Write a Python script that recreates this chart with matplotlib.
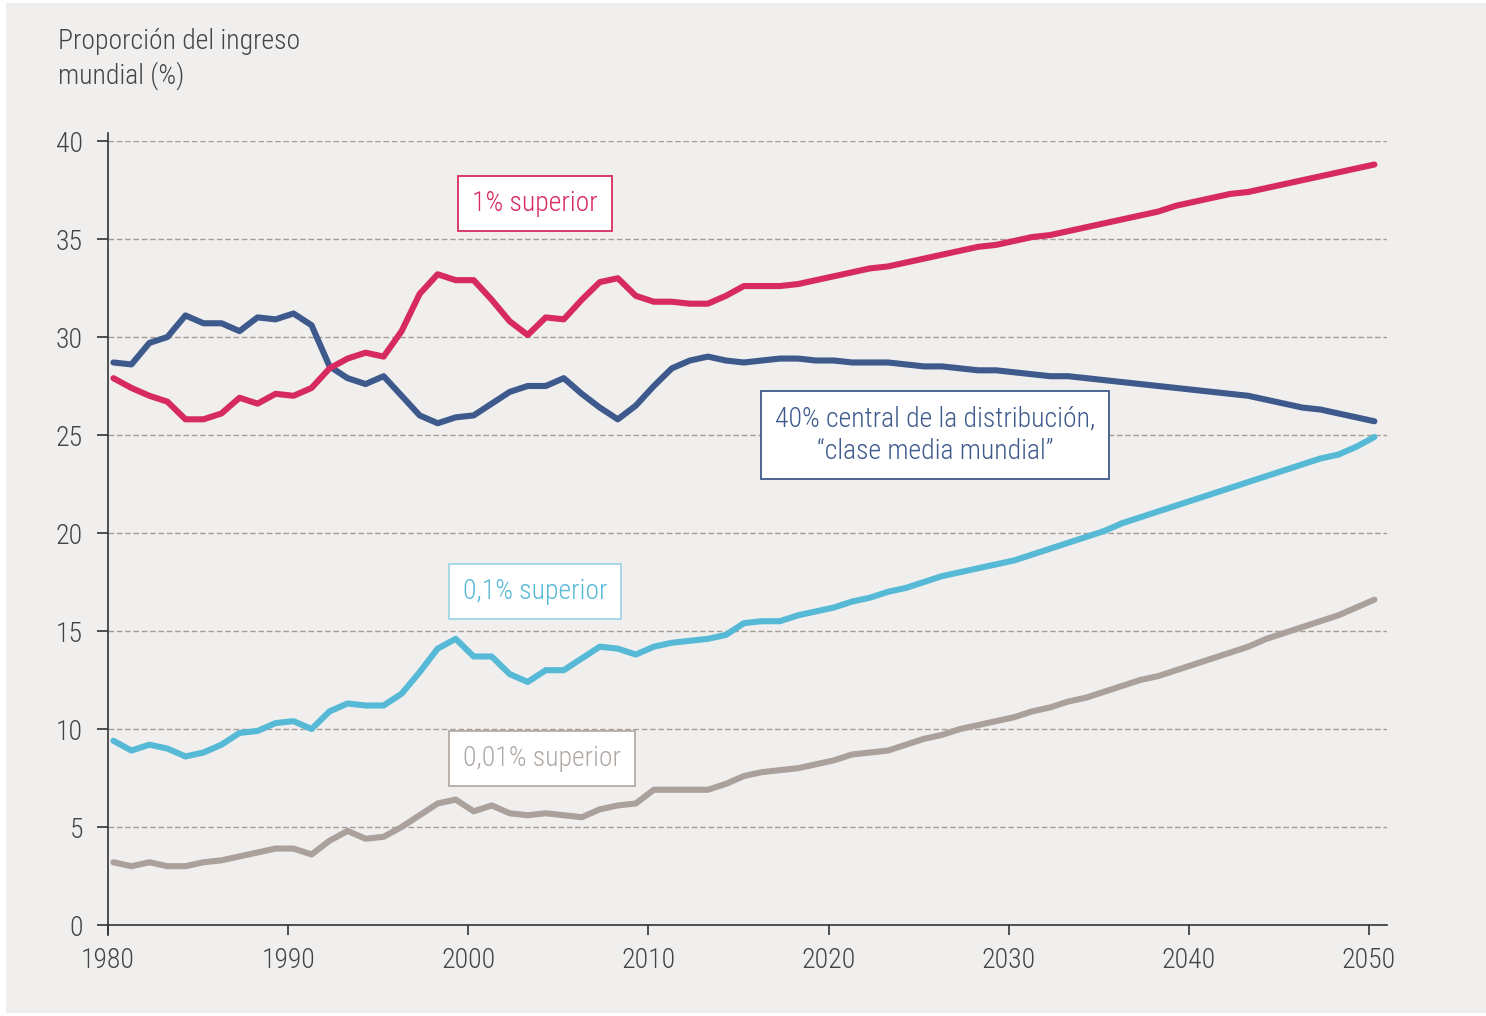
import matplotlib
matplotlib.use("Agg")
import matplotlib.pyplot as plt
from matplotlib.patches import Rectangle
import numpy as np

plt.rcParams['font.family'] = ['Roboto Condensed', 'Roboto', 'DejaVu Sans']
plt.rcParams['font.weight'] = 'light'

# years 1980..2050, values (% of world income)
years = list(range(1980, 2051))

top1 = [27.9, 27.4, 27.0, 26.7, 25.8, 25.8, 26.1, 26.9, 26.6, 27.1,
        27.0, 27.4, 28.4, 28.9, 29.2, 29.0, 30.3, 32.2, 33.2, 32.9,
        32.9, 31.9, 30.8, 30.1, 31.0, 30.9, 31.9, 32.8, 33.0, 32.1,
        31.8, 31.8, 31.7, 31.7, 32.1, 32.6, 32.6, 32.6, 32.7, 32.9,
        33.1, 33.3, 33.5, 33.6, 33.8, 34.0, 34.2, 34.4, 34.6, 34.7,
        34.9, 35.1, 35.2, 35.4, 35.6, 35.8, 36.0, 36.2, 36.4, 36.7,
        36.9, 37.1, 37.3, 37.4, 37.6, 37.8, 38.0, 38.2, 38.4, 38.6,
        38.8]

middle40 = [28.7, 28.6, 29.7, 30.0, 31.1, 30.7, 30.7, 30.3, 31.0, 30.9,
            31.2, 30.6, 28.5, 27.9, 27.6, 28.0, 27.0, 26.0, 25.6, 25.9,
            26.0, 26.6, 27.2, 27.5, 27.5, 27.9, 27.1, 26.4, 25.8, 26.5,
            27.5, 28.4, 28.8, 29.0, 28.8, 28.7, 28.8, 28.9, 28.9, 28.8,
            28.8, 28.7, 28.7, 28.7, 28.6, 28.5, 28.5, 28.4, 28.3, 28.3,
            28.2, 28.1, 28.0, 28.0, 27.9, 27.8, 27.7, 27.6, 27.5, 27.4,
            27.3, 27.2, 27.1, 27.0, 26.8, 26.6, 26.4, 26.3, 26.1, 25.9,
            25.7]

top01 = [9.4, 8.9, 9.2, 9.0, 8.6, 8.8, 9.2, 9.8, 9.9, 10.3,
         10.4, 10.0, 10.9, 11.3, 11.2, 11.2, 11.8, 12.9, 14.1, 14.6,
         13.7, 13.7, 12.8, 12.4, 13.0, 13.0, 13.6, 14.2, 14.1, 13.8,
         14.2, 14.4, 14.5, 14.6, 14.8, 15.4, 15.5, 15.5, 15.8, 16.0,
         16.2, 16.5, 16.7, 17.0, 17.2, 17.5, 17.8, 18.0, 18.2, 18.4,
         18.6, 18.9, 19.2, 19.5, 19.8, 20.1, 20.5, 20.8, 21.1, 21.4,
         21.7, 22.0, 22.3, 22.6, 22.9, 23.2, 23.5, 23.8, 24.0, 24.4,
         24.9]

top001 = [3.2, 3.0, 3.2, 3.0, 3.0, 3.2, 3.3, 3.5, 3.7, 3.9,
          3.9, 3.6, 4.3, 4.8, 4.4, 4.5, 5.0, 5.6, 6.2, 6.4,
          5.8, 6.1, 5.7, 5.6, 5.7, 5.6, 5.5, 5.9, 6.1, 6.2,
          6.9, 6.9, 6.9, 6.9, 7.2, 7.6, 7.8, 7.9, 8.0, 8.2,
          8.4, 8.7, 8.8, 8.9, 9.2, 9.5, 9.7, 10.0, 10.2, 10.4,
          10.6, 10.9, 11.1, 11.4, 11.6, 11.9, 12.2, 12.5, 12.7, 13.0,
          13.3, 13.6, 13.9, 14.2, 14.6, 14.9, 15.2, 15.5, 15.8, 16.2,
          16.6]

c_red = '#d72b5f'
c_navy = '#3e5a8d'
c_sky = '#56b9d6'
c_gray = '#aaa19c'
bg = '#f0efee'

W, H = 1486, 1016
fig = plt.figure(figsize=(W / 100, H / 100), dpi=100)
fig.patch.set_facecolor('white')
fig.patches.append(Rectangle((6 / W, 3 / H), 1 - 6 / W, 1 - 6 / H,
                             transform=fig.transFigure, facecolor=bg,
                             edgecolor='none', zorder=-10))

ax = fig.add_axes([108 / W, 1 - 925 / H, (1387 - 108) / W, (925 - 141) / H])
ax.set_facecolor('none')

for y in range(5, 41, 5):
    ax.axhline(y, color='#a59c96', lw=1.0, ls=(0, (4, 2)), zorder=1)

# yearly values drawn at mid-year
x = np.array(years) + 0.3
lw = 4.4
ax.plot(x, top001, color=c_gray, lw=lw, solid_capstyle='round', zorder=3)
ax.plot(x, top01, color=c_sky, lw=lw, solid_capstyle='round', zorder=3)
ax.plot(x, middle40, color=c_navy, lw=lw, solid_capstyle='round', zorder=3)
ax.plot(x, top1, color=c_red, lw=lw, solid_capstyle='round', zorder=3)

ax.set_xlim(1980, 2051)
ax.set_ylim(0, 40)
ax.set_xticks(range(1980, 2051, 10))
ax.set_yticks(range(0, 41, 5))
for s in ['top', 'right']:
    ax.spines[s].set_visible(False)
for s in ['left', 'bottom']:
    ax.spines[s].set_color('#333333')
    ax.spines[s].set_linewidth(1.2)
ax.spines['left'].set_bounds(-0.5, 40.4)
ax.tick_params(axis='y', direction='out', length=8, width=1.2, color='#333333',
               labelsize=20, labelcolor='#444444', pad=10)
ax.tick_params(axis='x', direction='out', length=7, width=1.2, color='#333333',
               labelsize=20, labelcolor='#444444', pad=9)

fig.text(58 / W, 1 - 28 / H, 'Proporción del ingreso\nmundial (%)',
         ha='left', va='top', fontsize=20, color='#444444', linespacing=1.3)

def label(x, y, txt, col, tcol=None):
    ax.text(x, y, txt, ha='center', va='center', fontsize=20,
            color=tcol or col, zorder=5, linespacing=1.25,
            bbox=dict(boxstyle='square,pad=0.5', facecolor='white',
                      edgecolor=col, linewidth=1.3))

label(2003.7, 36.8, '1% superior', c_red)
label(2025.9, 25.0, '40% central de la distribución,\n“clase media mundial”', c_navy)
label(2003.7, 17.0, '0,1% superior', '#9fd6e6', c_sky)
label(2004.1, 8.5, '0,01% superior', '#b5aca7', '#b0a8a3')

fig.savefig('out.png', dpi=100, facecolor=fig.get_facecolor())
